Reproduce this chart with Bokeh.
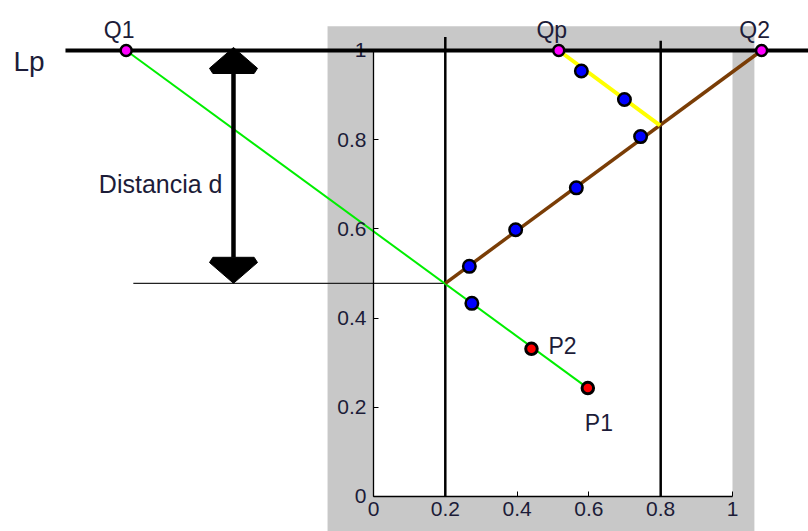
from bokeh.plotting import figure
from bokeh.models import Range1d, LinearAxis, FixedTicker
from bokeh.embed import file_html
from bokeh.resources import INLINE
from bokeh.core.properties import value

# ---------------- data ----------------
q_names = ["Q1", "Qp", "Q2"]
q_x = [-0.689, 0.516, 1.081]
q_y = [1.0, 1.0, 1.0]

p_names = ["P1", "P2"]
p_x = [0.597, 0.440]
p_y = [0.243, 0.331]

blue_x = [0.579, 0.699, 0.744, 0.565, 0.396, 0.267, 0.274]
blue_y = [0.954, 0.890, 0.807, 0.692, 0.598, 0.516, 0.433]

inter_low = (0.2, 0.478)    # green/brown crossing on x=0.2
inter_high = (0.798, 0.832)  # yellow/brown crossing on x=0.8

lp_y = 1.0
lp_x = [-0.858, 1.25]

vline_x = [0.2, 0.8]
vline_top = [1.03, 1.022]

hline_x = [-0.669, 0.2]

dist_x = -0.39
dist_label = "Distancia d"

ticks = [0, 0.2, 0.4, 0.6, 0.8, 1]
tick_labels = ["0", "0.2", "0.4", "0.6", "0.8", "1"]

# figure background (gray) and axes area
fig_bg_x = [-0.128, 1.061]
fig_bg_top = 1.0545
axes_x = [0, 1]
axes_y = [0, 1]

# ---------------- figure ----------------
W, H = 808, 531
XR = (-1.039, 1.2117)
YR = (-0.0785, 1.1121)
sx = W / (XR[1] - XR[0])
sy = H / (YR[1] - YR[0])

p = figure(width=W, height=H, x_range=Range1d(*XR), y_range=Range1d(*YR),
           output_backend="svg", toolbar_location=None,
           x_axis_location=None, y_axis_location=None, min_border=0)
p.outline_line_color = None
p.xgrid.visible = False
p.ygrid.visible = False
p.background_fill_color = "white"
p.border_fill_color = "white"

FONT = value("Liberation Sans")
TXT = "#1c1c38"

# gray figure background and white axes
p.quad(left=fig_bg_x[0], right=fig_bg_x[1], bottom=YR[0] - 0.1, top=fig_bg_top,
       fill_color="#c8c8c8", line_color=None)
p.quad(left=axes_x[0], right=axes_x[1], bottom=axes_y[0], top=axes_y[1],
       fill_color="white", line_color=None)

# axes
xax = LinearAxis(fixed_location=0, bounds=(0, 1), ticker=FixedTicker(ticks=ticks),
                 major_label_overrides={float(t): l for t, l in zip(ticks, tick_labels)})
yax = LinearAxis(fixed_location=0, bounds=(0, 1), ticker=FixedTicker(ticks=ticks),
                 major_label_overrides={float(t): l for t, l in zip(ticks, tick_labels)})
for ax in (xax, yax):
    ax.axis_line_color = "black"
    ax.axis_line_width = 1.3
    ax.major_tick_in = 5
    ax.major_tick_out = 0
    ax.major_tick_line_color = "black"
    ax.minor_tick_line_color = None
    ax.major_label_text_font = "Liberation Sans"
    ax.major_label_text_font_size = "21px"
    ax.major_label_text_color = TXT
xax.major_label_standoff = 6
yax.major_label_standoff = 7
p.add_layout(xax, "below")
p.add_layout(yax, "left")

# vertical lines at 0.2 and 0.8
for vx, vt in zip(vline_x, vline_top):
    p.line([vx, vx], [0, vt], line_color="black", line_width=2.5)

# thin horizontal reference line
p.line(hline_x, [inter_low[1], inter_low[1]], line_color="#222222", line_width=1.2)

# green line Q1 -> P1
p.line([q_x[0], p_x[0]], [q_y[0], p_y[0]], line_color="#00ee00", line_width=2)
# brown line crossing -> Q2
p.line([inter_low[0], q_x[2]], [inter_low[1], q_y[2]], line_color="#7a3d06", line_width=3.5)
# yellow line Qp -> crossing
p.line([q_x[1], inter_high[0]], [q_y[1], inter_high[1]], line_color="#ffff00", line_width=4)

# distance arrow
hw = 24 / sx
hl = 26 / sy
tip = 3 / sy
top_y, bot_y = lp_y + tip, inter_low[1]
head_x = [dist_x, dist_x + hw, dist_x + 0.86 * hw, dist_x - 0.86 * hw, dist_x - hw]
up_head_y = [top_y, top_y - 0.8 * hl, top_y - hl, top_y - hl, top_y - 0.8 * hl]
dn_head_y = [bot_y, bot_y + 0.8 * hl, bot_y + hl, bot_y + hl, bot_y + 0.8 * hl]
p.line([dist_x, dist_x], [top_y - hl, bot_y + hl], line_color="black", line_width=4.5)
p.patches([head_x, head_x], [up_head_y, dn_head_y], fill_color="black",
          line_color="black", line_width=1)

# markers
p.scatter(blue_x, blue_y, size=12.5, fill_color="#0000ff", line_color="black", line_width=2.5)
p.scatter(p_x, p_y, size=11.5, fill_color="#ff0000", line_color="black", line_width=3)

# Lp line (drawn above the axis labels) and its points
p.line(lp_x, [lp_y, lp_y], line_color="black", line_width=4, level="overlay")
p.scatter(q_x, q_y, size=11, fill_color="#ff00ff", line_color="black", line_width=2.5,
          level="overlay")

# labels
for name, x, y in zip(q_names, q_x, q_y):
    p.text([x], [y], text=[name], text_font=FONT, text_font_size="23px", text_color=TXT,
           text_align="center", text_baseline="alphabetic", x_offset=-7, y_offset=-20)
p.text([p_x[0]], [p_y[0]], text=[p_names[0]], text_font=FONT, text_font_size="23px",
       text_color=TXT, text_align="left", text_baseline="alphabetic", x_offset=-3, y_offset=35)
p.text([p_x[1]], [p_y[1]], text=[p_names[1]], text_font=FONT, text_font_size="23px",
       text_color=TXT, text_align="left", text_baseline="alphabetic", x_offset=17, y_offset=-3)
p.text([lp_x[0]], [lp_y], text=["Lp"], text_font=FONT, text_font_size="28px",
       text_color=TXT, text_align="left", text_baseline="alphabetic", x_offset=-52, y_offset=11)
p.text([dist_x], [(lp_y + bot_y) / 2], text=[dist_label], text_font=FONT,
       text_font_size="25px", text_color=TXT, text_align="right",
       text_baseline="alphabetic", x_offset=-11, y_offset=17)

open("out.html", "w").write(file_html(p, INLINE))
